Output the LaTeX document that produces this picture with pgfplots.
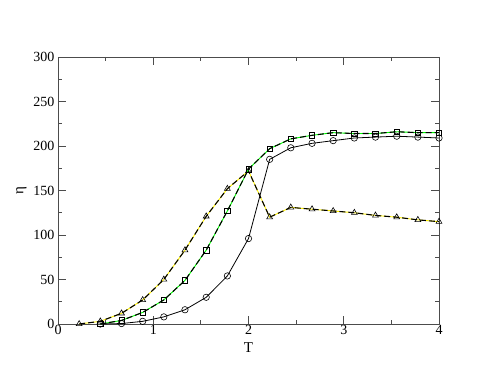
\documentclass[border=0pt]{standalone}
\usepackage{fontspec}
\setmainfont{Liberation Serif}
\usepackage{pgfplots}
\pgfplotsset{compat=1.18}
\begin{document}
\begin{tikzpicture}
\useasboundingbox (0,0) rectangle (494pt,382pt);
\begin{axis}[
  at={(58pt,58pt)}, anchor=south west,
  scale only axis, width=381pt, height=267pt,
  xmin=0, xmax=4, ymin=0, ymax=300,
  xtick={0,1,2,3,4}, ytick={0,50,100,150,200,250,300},
  minor xtick={0.5,1.5,2.5,3.5}, minor ytick={25,75,125,175,225,275},
  tick align=inside, major tick length=8pt, minor tick length=4pt,
  tick style={black!70, line width=0.8pt},
  axis line style={black!70, line width=0.9pt},
  /pgf/number format/assume math mode=true,
  xticklabel style={font=\fontsize{14}{15}\selectfont, yshift=2pt},
  yticklabel style={font=\fontsize{14}{15}\selectfont},
  xlabel={T}, ylabel={η},
  label style={font=\fontsize{15}{17}\selectfont},
  xlabel style={yshift=-1pt},
  clip=false,
]
% triangles
\addplot[yellow, line width=0.9pt, forget plot] coordinates {
(0.222,0)(0.444,3)(0.667,12)(0.889,27)(1.111,50)(1.333,83)(1.556,121)(1.778,152)(2.0,172)(2.222,120)(2.444,131)(2.667,129)(2.889,127)(3.111,125)(3.333,122)(3.556,120)(3.778,117)(4.0,115)};
\addplot[black, line width=1.1pt, dash pattern=on 6pt off 3pt, mark=triangle, mark size=3.4pt, mark options={solid, fill=white, line width=0.6pt}] coordinates {
(0.222,0)(0.444,3)(0.667,12)(0.889,27)(1.111,50)(1.333,83)(1.556,121)(1.778,152)(2.0,172)(2.222,120)(2.444,131)(2.667,129)(2.889,127)(3.111,125)(3.333,122)(3.556,120)(3.778,117)(4.0,115)};
% squares
\addplot[green, line width=0.9pt, forget plot] coordinates {
(0.444,0)(0.667,4)(0.889,13)(1.111,27)(1.333,49)(1.556,83)(1.778,127)(2.0,174)(2.222,197)(2.444,208)(2.667,212)(2.889,215)(3.111,214)(3.333,214)(3.556,216)(3.778,215)(4.0,215)};
\addplot[black, line width=1.1pt, dash pattern=on 6pt off 3pt, mark=square, mark size=2.7pt, mark options={solid, fill=white, line width=0.6pt}] coordinates {
(0.444,0)(0.667,4)(0.889,13)(1.111,27)(1.333,49)(1.556,83)(1.778,127)(2.0,174)(2.222,197)(2.444,208)(2.667,212)(2.889,215)(3.111,214)(3.333,214)(3.556,216)(3.778,215)(4.0,215)};
% circles
\addplot[black, line width=0.8pt, mark=o, mark size=3.2pt, mark options={solid, fill=white, line width=0.6pt}] coordinates {
(0.444,0)(0.667,0.5)(0.889,3)(1.111,8)(1.333,16)(1.556,30)(1.778,54)(2.0,96)(2.222,185)(2.444,198)(2.667,203)(2.889,206)(3.111,209)(3.333,210)(3.556,211)(3.778,210)(4.0,209)};
\end{axis}
\end{tikzpicture}
\end{document}
